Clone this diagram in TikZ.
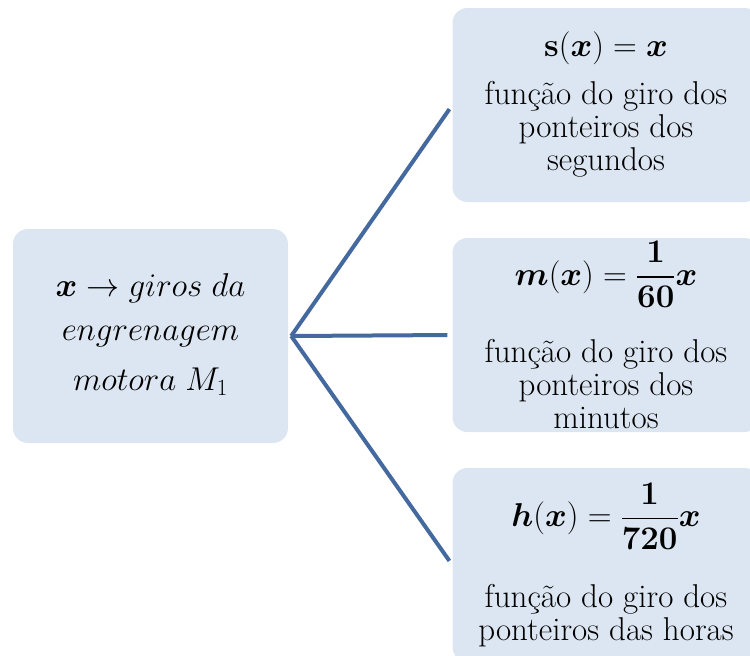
\RequirePackage{fix-cm}
\documentclass[tikz,border=0pt]{standalone}
\usepackage{amsmath,amssymb,bm}
\usetikzlibrary{positioning}
\definecolor{boxfill}{HTML}{DCE6F2}
\definecolor{linkblue}{HTML}{44699E}

\tikzset{
  gearbox/.style={fill=boxfill,rounded corners=15pt,align=center,inner sep=0pt,
    font=\fontsize{33}{33}\selectfont},
  link/.style={linkblue,line width=4pt,shorten >=5pt}
}

\begin{document}
\begin{tikzpicture}[x=1pt,y=-1pt]
  \useasboundingbox (0,0) rectangle (750,656);

  % Input box
  \node[gearbox,minimum width=275pt,minimum height=214pt,
        font=\fontsize{33}{44}\selectfont] (motor) at (150.5,336)
    {$\bm{x}\rightarrow giros\;da$\\ $engrenagem$\\[6pt] $motora\;M_1$\\[-36pt]};

  % Output boxes
  \node[gearbox,minimum width=307pt,minimum height=194pt] (segs) at (606,105)
    {$\mathbf{s}(\bm{x})=\bm{x}$\\[15pt] função do giro dos\\ ponteiros dos\\ segundos};
  \node[gearbox,minimum width=307pt,minimum height=194pt] (mins) at (606,335)
    {$\bm{m}(\bm{x})=\dfrac{\mathbf{1}}{\mathbf{60}}\bm{x}$\\[30pt] função do giro dos\\ ponteiros dos\\ minutos};
  \node[gearbox,minimum width=307pt,minimum height=194pt] (hours) at (606,565)
    {$\bm{h}(\bm{x})=\dfrac{\mathbf{1}}{\mathbf{720}}\bm{x}$\\[34pt] função do giro dos\\ ponteiros das horas};

  % Connectors
  \coordinate[right=3pt of motor.east] (hub);
  \draw[link] (hub) -- (segs.west);
  \draw[link] (hub) -- (mins.west);
  \draw[link] (hub) -- (hours.west);
\end{tikzpicture}
\end{document}
